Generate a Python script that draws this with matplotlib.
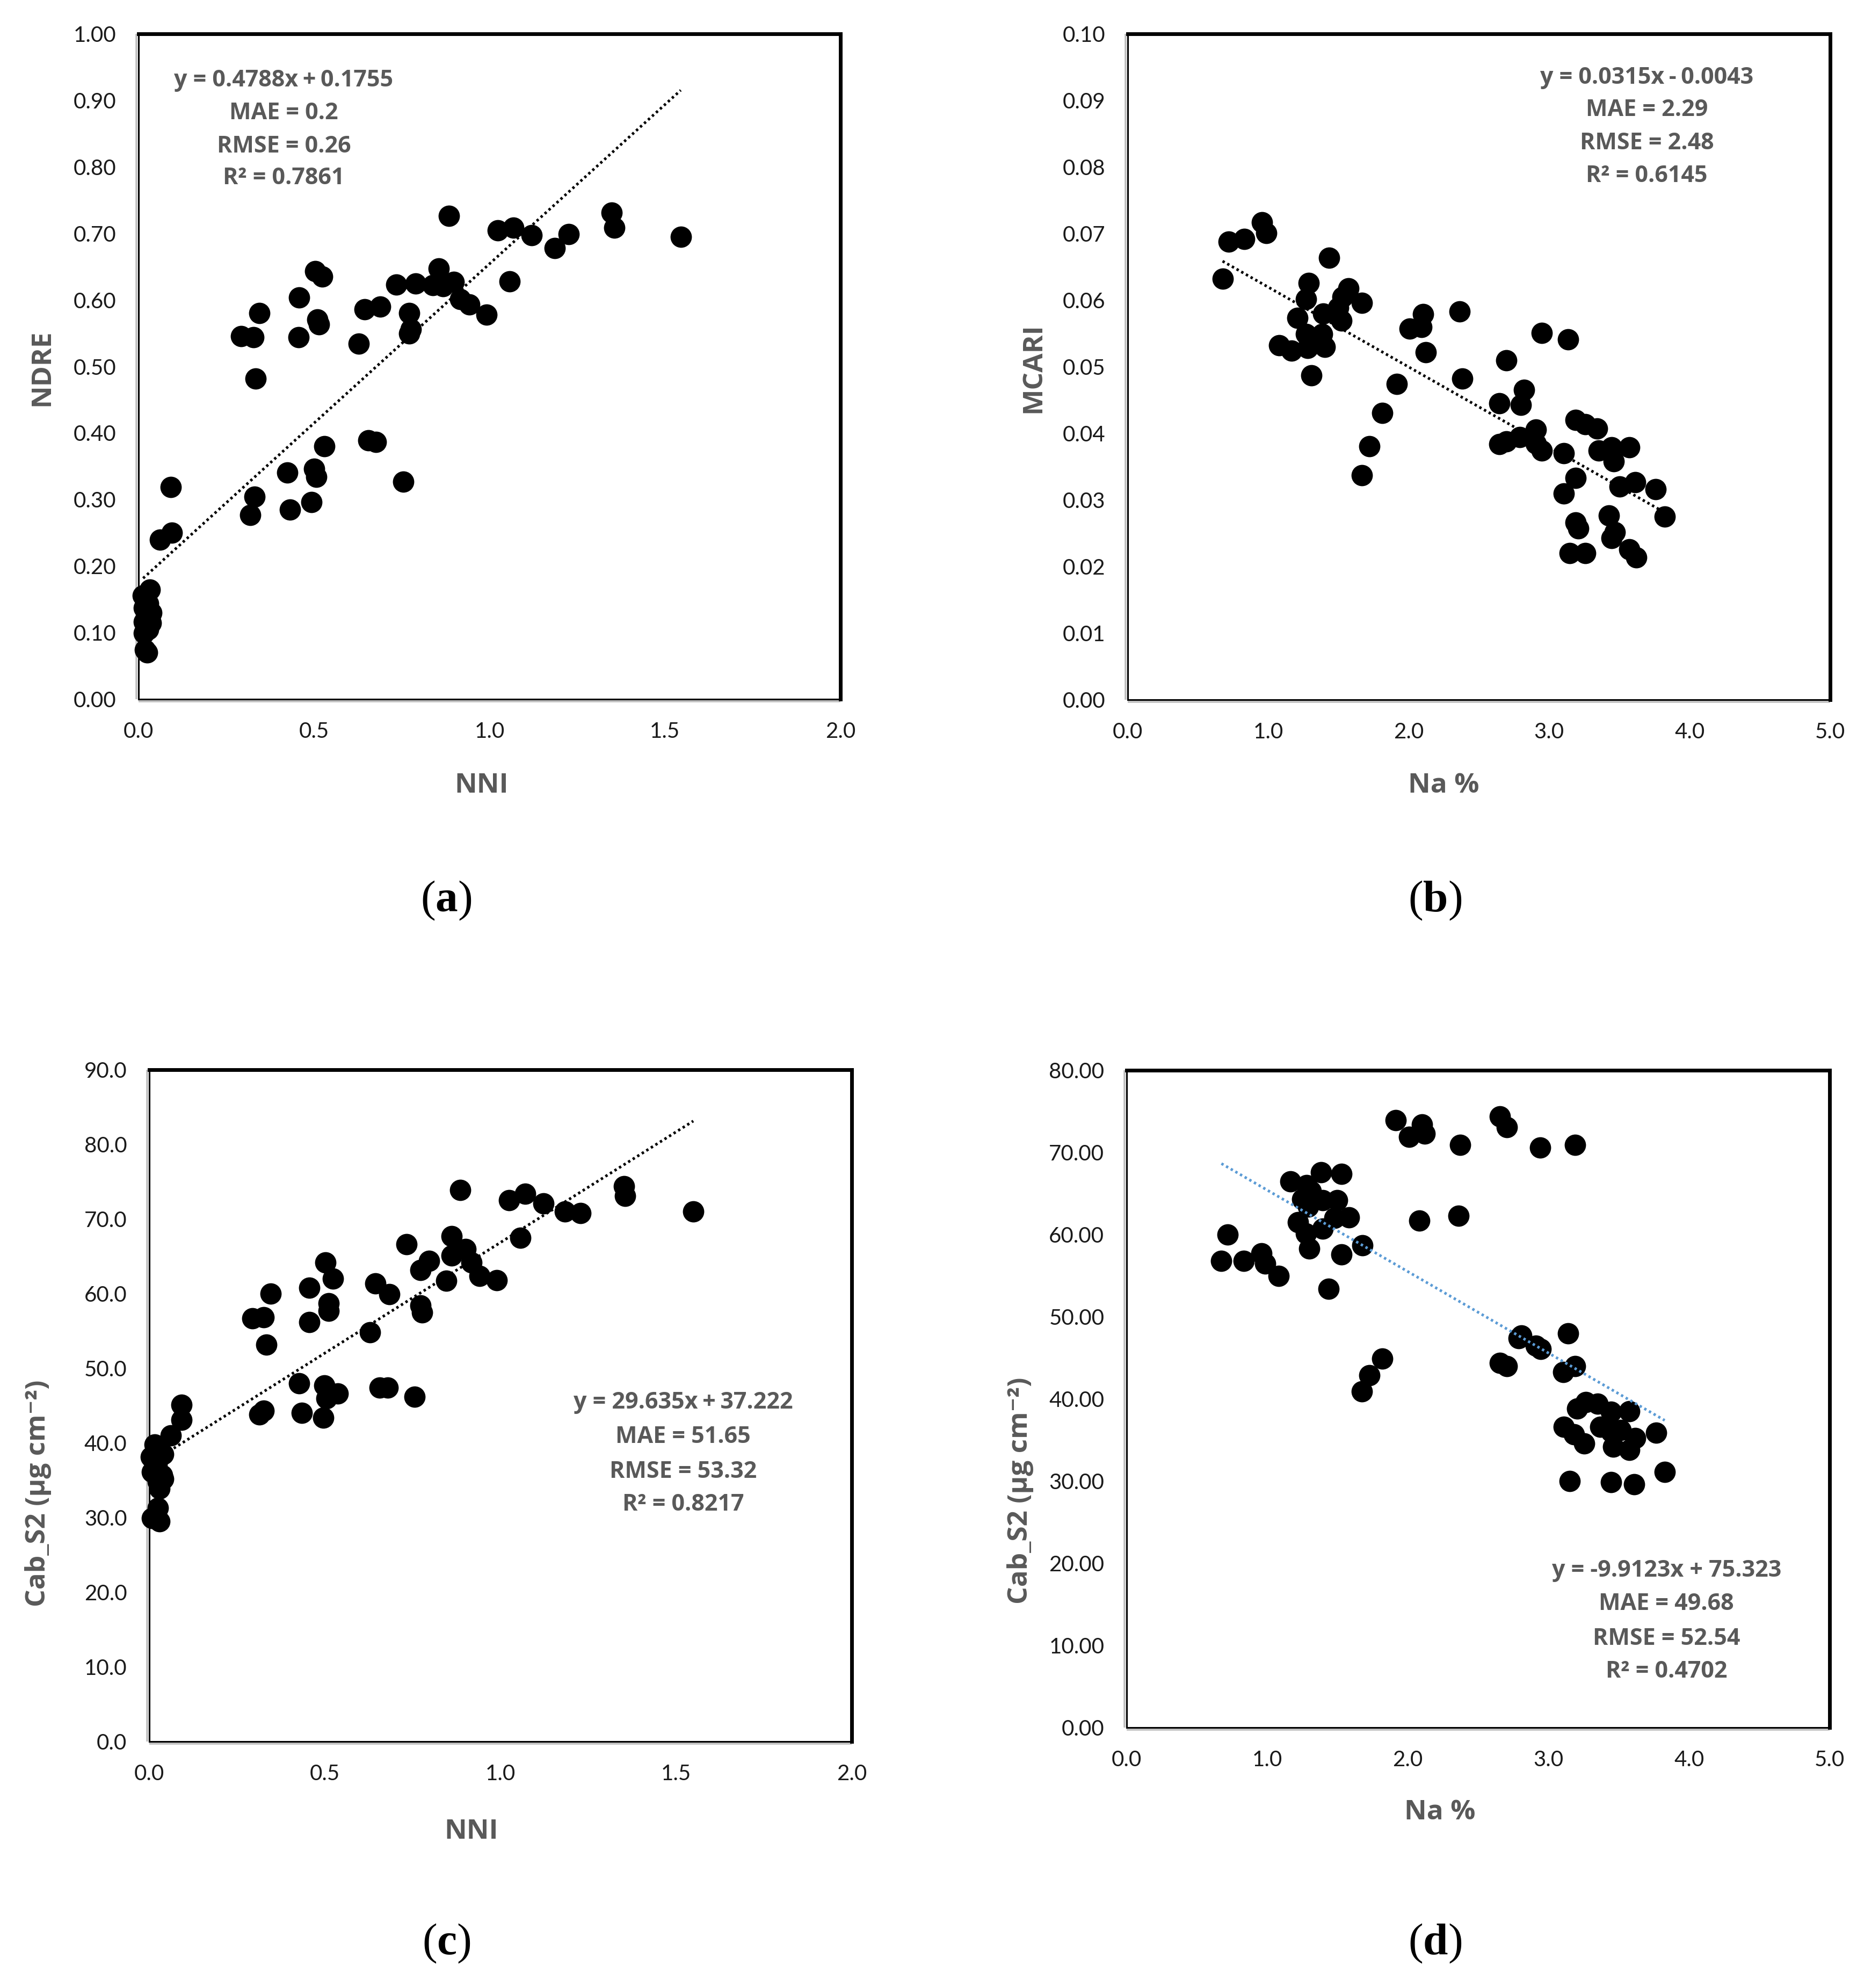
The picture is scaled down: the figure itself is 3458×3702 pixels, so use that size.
import numpy as np
import matplotlib
matplotlib.use("Agg")
import matplotlib.pyplot as plt
from matplotlib.transforms import offset_copy

# ---- data ----
# (a) NDRE vs NNI
nni_a = [0.884, 1.023, 1.068, 1.120, 1.226, 1.186, 1.348, 1.356, 1.545, 1.057,
         0.856, 0.838, 0.867, 0.899, 0.916, 0.943, 0.991, 0.734, 0.790, 0.771,
         0.771, 0.776, 0.688, 0.644, 0.628, 0.503, 0.524, 0.458, 0.509, 0.514,
         0.456, 0.344, 0.292, 0.328, 0.334, 0.530, 0.655, 0.676, 0.755, 0.424,
         0.501, 0.506, 0.492, 0.431, 0.331, 0.318, 0.092, 0.095, 0.061, 0.032,
         0.013, 0.027, 0.037, 0.032, 0.016, 0.027, 0.016, 0.019, 0.024, 0.016,
         0.035]
ndre = [0.726, 0.705, 0.709, 0.697, 0.699, 0.678, 0.731, 0.709, 0.695, 0.628,
        0.647, 0.622, 0.621, 0.627, 0.601, 0.593, 0.578, 0.623, 0.625, 0.580,
        0.550, 0.556, 0.590, 0.586, 0.534, 0.643, 0.635, 0.604, 0.571, 0.563,
        0.544, 0.580, 0.546, 0.544, 0.482, 0.380, 0.389, 0.387, 0.327, 0.341,
        0.346, 0.334, 0.296, 0.285, 0.304, 0.277, 0.319, 0.250, 0.240, 0.165,
        0.156, 0.144, 0.130, 0.122, 0.116, 0.105, 0.099, 0.074, 0.070, 0.137,
        0.115]

# (b) MCARI vs Na %
na_b = [0.675, 0.717, 0.829, 0.954, 0.988, 1.433, 1.288, 1.271, 1.208, 1.392,
        1.571, 1.529, 1.500, 1.521, 1.667, 1.079, 1.167, 1.292, 1.271, 1.383,
        1.404, 1.321, 1.279, 1.308, 2.008, 2.092, 2.104, 2.121, 2.363, 2.383,
        1.917, 1.813, 1.721, 1.667, 2.696, 2.646, 2.821, 2.800, 2.946, 3.133,
        2.646, 2.696, 2.792, 2.904, 2.904, 2.946, 3.104, 3.104, 3.188, 3.188,
        3.258, 3.342, 3.354, 3.446, 3.458, 3.571, 3.500, 3.613, 3.758, 3.821,
        3.425, 3.467, 3.446, 3.188, 3.208, 3.146, 3.258, 3.571, 3.621]
mcari = [0.0632, 0.0688, 0.0692, 0.0717, 0.0701, 0.0664, 0.0626, 0.0602, 0.0573, 0.0580,
         0.0618, 0.0605, 0.0589, 0.0569, 0.0596, 0.0532, 0.0524, 0.0535, 0.0549, 0.0549,
         0.0530, 0.0543, 0.0528, 0.0487, 0.0557, 0.0560, 0.0579, 0.0522, 0.0583, 0.0482,
         0.0474, 0.0431, 0.0381, 0.0337, 0.0510, 0.0445, 0.0465, 0.0443, 0.0551, 0.0541,
         0.0384, 0.0388, 0.0394, 0.0406, 0.0385, 0.0374, 0.0370, 0.0310, 0.0333, 0.0420,
         0.0414, 0.0407, 0.0374, 0.0379, 0.0358, 0.0379, 0.0320, 0.0327, 0.0316, 0.0275,
         0.0277, 0.0252, 0.0243, 0.0266, 0.0257, 0.0220, 0.0220, 0.0226, 0.0214]

# (c) Cab_S2 vs NNI
nni_c = [0.885, 1.025, 1.070, 1.123, 1.183, 1.228, 1.352, 1.355, 1.549, 1.057,
         0.861, 0.861, 0.901, 0.917, 0.941, 0.990, 0.845, 0.796, 0.772, 0.732,
         0.772, 0.776, 0.684, 0.644, 0.628, 0.502, 0.523, 0.455, 0.510, 0.510,
         0.455, 0.346, 0.293, 0.325, 0.333, 0.536, 0.656, 0.679, 0.756, 0.426,
         0.499, 0.504, 0.496, 0.434, 0.325, 0.314, 0.092, 0.092, 0.061, 0.016,
         0.005, 0.040, 0.021, 0.008, 0.037, 0.024, 0.029, 0.040, 0.024, 0.008,
         0.029]
cab_c = [73.9, 72.5, 73.4, 72.1, 71.0, 70.8, 74.4, 73.1, 71.0, 67.5,
         67.7, 65.1, 66.0, 64.2, 62.4, 61.8, 61.7, 64.4, 63.2, 66.6,
         58.4, 57.5, 59.9, 61.4, 54.8, 64.2, 62.0, 60.8, 58.7, 57.7,
         56.2, 60.0, 56.7, 56.8, 53.2, 46.6, 47.4, 47.4, 46.2, 48.0,
         47.7, 46.0, 43.4, 44.0, 44.3, 43.8, 45.1, 43.1, 41.0, 39.8,
         38.1, 38.5, 37.1, 36.1, 35.7, 34.8, 33.9, 35.2, 31.3, 29.9,
         29.5]

# (d) Cab_S2 vs Na %
na_d = [1.913, 2.009, 2.101, 2.121, 2.371, 2.654, 2.704, 2.941, 3.191, 2.080,
        2.359, 0.674, 0.720, 0.832, 0.957, 0.986, 1.082, 1.165, 1.219, 1.248,
        1.281, 1.310, 1.277, 1.298, 1.290, 1.381, 1.393, 1.393, 1.477, 1.498,
        1.527, 1.581, 1.527, 1.435, 1.676, 1.672, 1.726, 1.818, 2.808, 2.787,
        2.912, 2.945, 2.654, 2.704, 3.141, 3.107, 3.191, 3.203, 3.265, 3.349,
        3.444, 3.577, 3.111, 3.182, 3.253, 3.369, 3.444, 3.515, 3.461, 3.577,
        3.619, 3.765, 3.827, 3.153, 3.444, 3.611]
cab_d = [73.9, 71.9, 73.4, 72.3, 70.9, 74.4, 73.1, 70.6, 70.9, 61.7,
         62.3, 56.8, 60.0, 56.8, 57.7, 56.5, 55.0, 66.5, 61.5, 64.3,
         66.0, 65.3, 60.1, 58.3, 63.4, 67.6, 64.2, 60.7, 62.0, 64.2,
         67.4, 62.1, 57.6, 53.4, 58.7, 40.9, 42.9, 44.9, 47.7, 47.4,
         46.5, 46.1, 44.4, 44.0, 48.0, 43.3, 44.0, 38.8, 39.6, 39.4,
         38.4, 38.5, 36.6, 35.7, 34.6, 36.6, 36.0, 36.2, 34.2, 33.8,
         35.2, 35.9, 31.1, 30.0, 29.9, 29.6]

# trendline coefficients as printed (panel b's printed equation does not
# match its drawn line, so that one is fitted from the points instead)
trend_a = (0.4788, 0.1755)
trend_c = (29.635, 37.222)
trend_d = (-9.9123, 75.323)

T = "\u2009"  # thin space, as in Excel's trendline label
stats_a = [f"y = 0.4788x{T}+{T}0.1755", "MAE = 0.2", "RMSE = 0.26", "R² = 0.7861"]
stats_b = [f"y = 0.0315x{T}-{T}0.0043", "MAE = 2.29", "RMSE = 2.48", "R² = 0.6145"]
stats_c = [f"y = 29.635x{T}+{T}37.222", "MAE = 51.65", "RMSE = 53.32", "R² = 0.8217"]
stats_d = ["y = -9.9123x + 75.323", "MAE = 49.68", "RMSE = 52.54", "R² = 0.4702"]

W, H = 3458, 3702
FONT = ["Lato", "DejaVu Sans"]
BOLD_FONT = ["Open Sans", "DejaVu Sans"]
GREY = "#595959"

plt.rcParams["font.family"] = FONT
plt.rcParams["mathtext.fontset"] = "custom"
plt.rcParams["mathtext.rm"] = "Liberation Serif"
plt.rcParams["mathtext.bf"] = "Liberation Serif:bold"


def fx(px):
    return px / W


def fy(py):
    return 1 - py / H


def make_axes(fig, left, top, right, bottom):
    """Create an axes from pixel box (left, top, right, bottom)."""
    ax = fig.add_axes([fx(left), fy(bottom), fx(right) - fx(left),
                       (bottom - top) / H])
    for side in ("top", "right"):
        ax.spines[side].set_linewidth(5)
        ax.spines[side].set_color("black")
    for side in ("left", "bottom"):
        ax.spines[side].set_linewidth(2.2)
        ax.spines[side].set_color("black")
    # light grey axis line just outside the plot area border (Excel look)
    tl = offset_copy(ax.transAxes, fig=fig, x=-4, y=0, units="dots")
    tb = offset_copy(ax.transAxes, fig=fig, x=0, y=-4, units="dots")
    ax.plot([0, 0], [0, 1], transform=tl, color="#BFBFBF", lw=2.6,
            clip_on=False, solid_capstyle="butt", zorder=1)
    ax.plot([0, 1], [0, 0], transform=tb, color="#BFBFBF", lw=2.6,
            clip_on=False, solid_capstyle="butt", zorder=1)
    ax.tick_params(length=0, pad=30, labelsize=29, colors="#1a1a1a")
    return ax


def draw_panel(ax, x, y, xlim, xstep, xfmt, ylim, ystep, yfmt,
               stats, stat_x, stat_y, trend=None, line_color="black"):
    """Scatter plus dotted linear trendline and stats text."""
    x = np.array(x)
    y = np.array(y)
    ax.scatter(x, y, s=820, c="black", linewidths=0, zorder=3, clip_on=False)

    if trend is None:
        trend = np.polyfit(x, y, 1)
    slope, intercept = trend
    xs = np.array([x.min(), x.max()])
    ax.plot(xs, slope * xs + intercept, color=line_color, lw=3.6,
            linestyle=(0, (0.9, 1.1)), zorder=4)

    ax.set_xlim(*xlim)
    ax.set_ylim(*ylim)
    ax.set_xticks(np.arange(xlim[0], xlim[1] + xstep / 2, xstep))
    ax.set_yticks(np.arange(ylim[0], ylim[1] + ystep / 2, ystep))
    ax.xaxis.set_major_formatter(plt.FormatStrFormatter(xfmt))
    ax.yaxis.set_major_formatter(plt.FormatStrFormatter(yfmt))

    for i, line in enumerate(stats):
        ax.text(stat_x, stat_y[i], line, transform=ax.transAxes,
                ha="center", va="center", fontsize=31, fontweight="bold",
                color=GREY, family=BOLD_FONT)


def main():
    fig = plt.figure(figsize=(W / 100, H / 100), dpi=100)

    ax_a = make_axes(fig, 258, 63, 1565, 1302)
    draw_panel(ax_a, nni_a, ndre, (0, 2.0), 0.5, "%.1f", (0, 1.0), 0.1, "%.2f",
               stats_a, 0.207, [0.930, 0.881, 0.831, 0.783], trend=trend_a)

    ax_b = make_axes(fig, 2100, 63, 3408, 1303)
    draw_panel(ax_b, na_b, mcari, (0, 5.0), 1.0, "%.1f", (0, 0.10), 0.01, "%.2f",
               stats_b, 0.739, [0.934, 0.886, 0.836, 0.787])

    ax_c = make_axes(fig, 278, 1992, 1586, 3243)
    draw_panel(ax_c, nni_c, cab_c, (0, 2.0), 0.5, "%.1f", (0, 90), 10, "%.1f",
               stats_c, 0.760, [0.505, 0.454, 0.402, 0.353], trend=trend_c)

    ax_d = make_axes(fig, 2098, 1993, 3407, 3217)
    draw_panel(ax_d, na_d, cab_d, (0, 5.0), 1.0, "%.1f", (0, 80), 10, "%.2f",
               stats_d, 0.768, [0.239, 0.188, 0.135, 0.085], trend=trend_d,
               line_color="#5B9BD5")

    # axis titles
    title_kw = dict(fontsize=37, fontweight="bold", color=GREY,
                    ha="center", va="center", family=BOLD_FONT)
    fig.text(fx(897), fy(1463), "NNI", **title_kw)
    fig.text(fx(2688), fy(1463), "Na %", **title_kw)
    fig.text(fx(878), fy(3411), "NNI", **title_kw)
    fig.text(fx(2681), fy(3375), "Na %", **title_kw)
    fig.text(fx(78), fy(685), "NDRE", rotation=90, **title_kw)
    fig.text(fx(1924), fy(685), "MCARI", rotation=90, **title_kw)
    fig.text(fx(71), fy(2781), "Cab_S2 (µg cm⁻²)", rotation=90, **title_kw)
    fig.text(fx(1900), fy(2776), "Cab_S2 (µg cm⁻²)", rotation=90, **title_kw)

    # panel letters
    for px, py, letter in [(831, 1677, "a"), (2672, 1677, "b"),
                           (831, 3619, "c"), (2672, 3619, "d")]:
        fig.text(fx(px), fy(py), r"$(\mathbf{%s})$" % letter, fontsize=60,
                 ha="center", va="center", color="black")

    fig.savefig("out.png", dpi=100, facecolor="white")


if __name__ == "__main__":
    main()
